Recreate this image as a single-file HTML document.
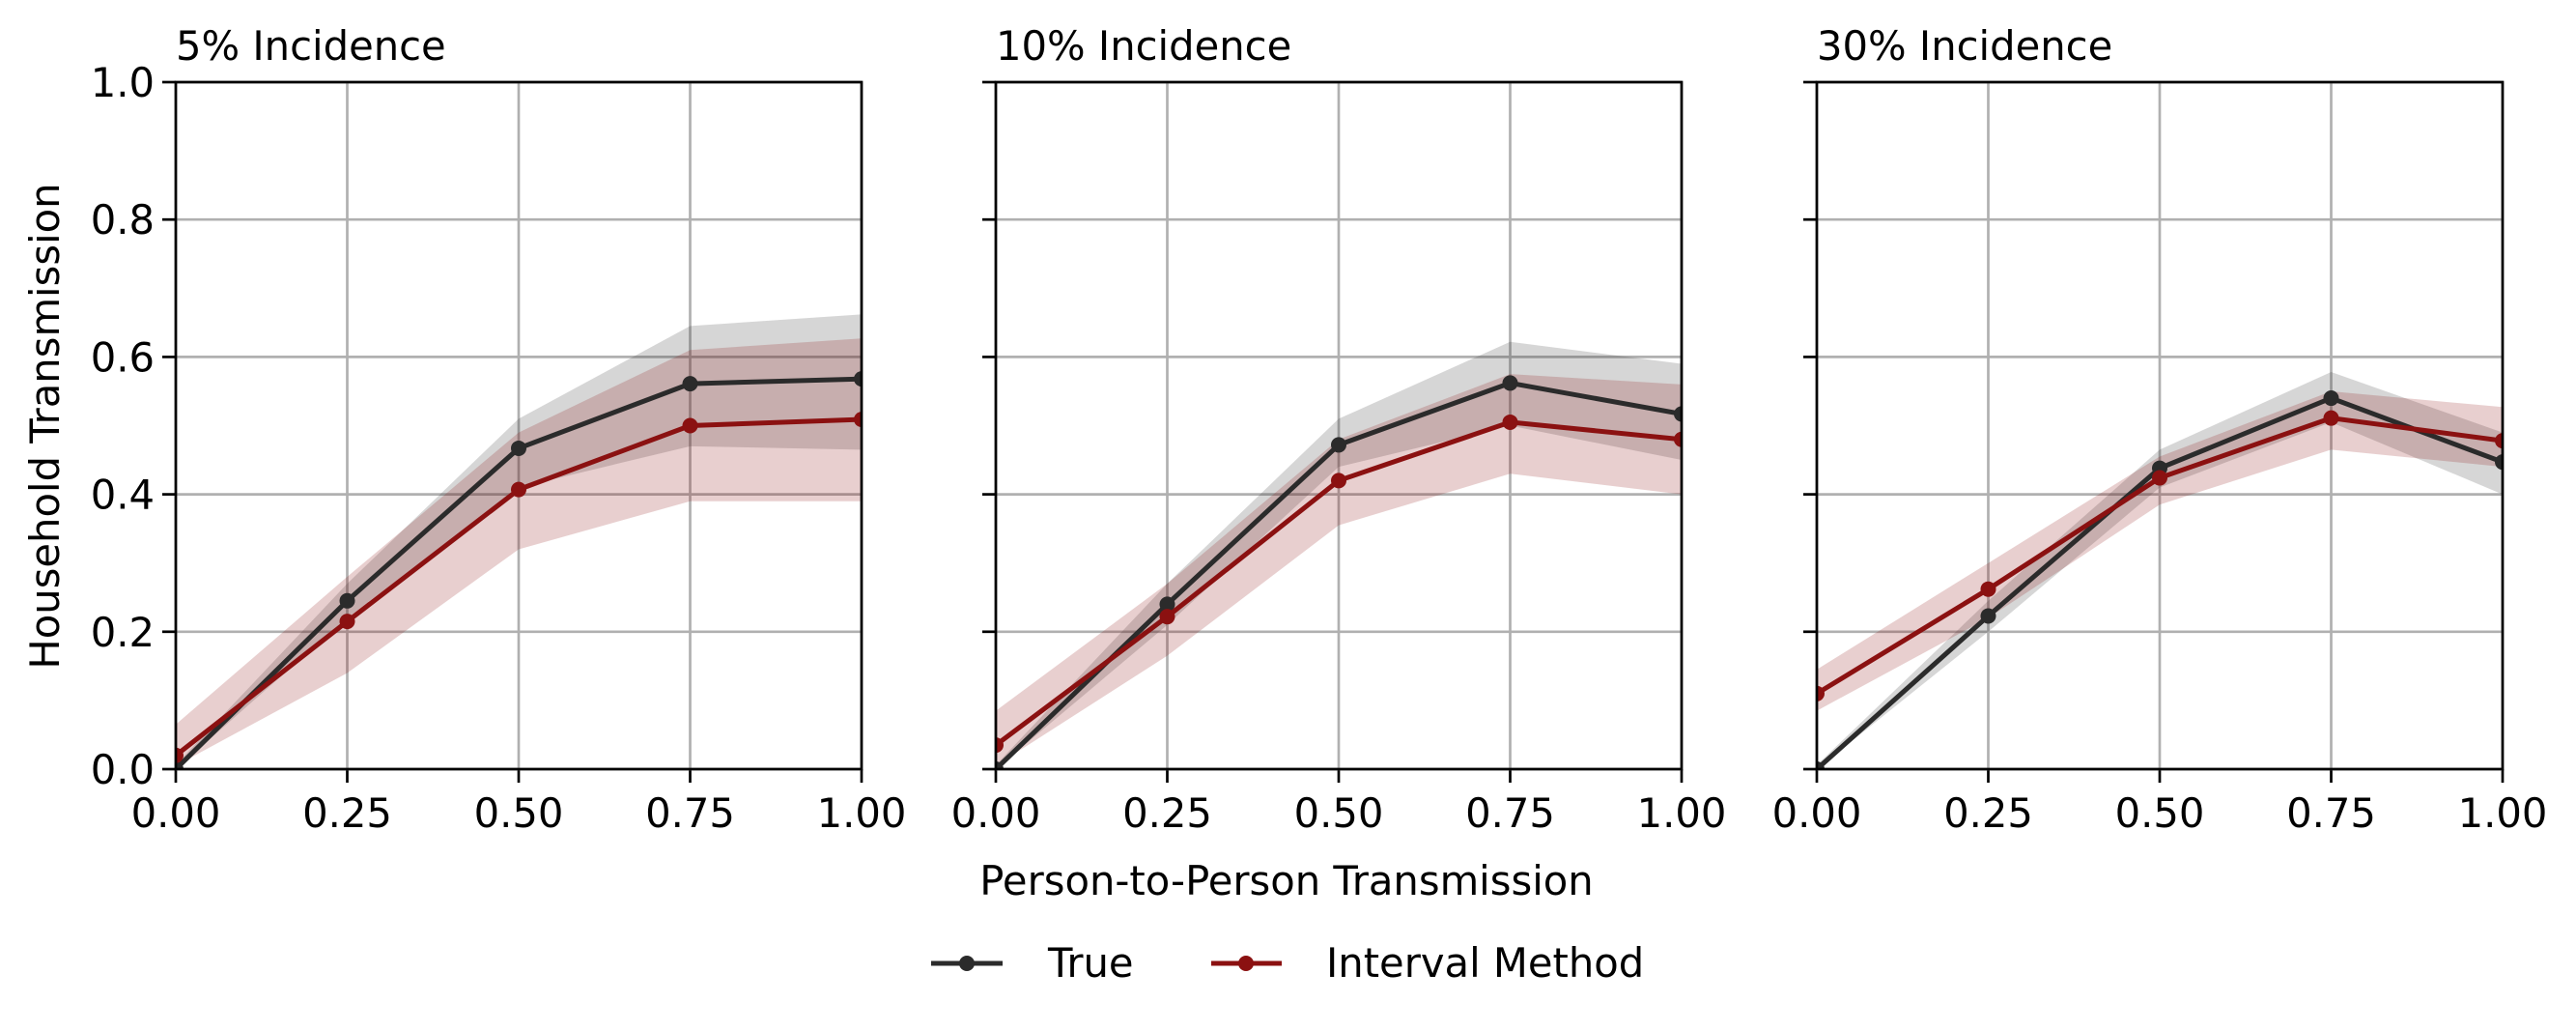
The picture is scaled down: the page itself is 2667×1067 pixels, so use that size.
<!DOCTYPE html>
<html><head><meta charset="utf-8"><style>
html,body{margin:0;padding:0;background:#fff;}
svg{display:block;font-family:"DejaVu Sans","Liberation Sans",sans-serif;}
</style></head><body>
<svg id="chart" width="2667" height="1067" viewBox="0 0 2667 1067" xmlns="http://www.w3.org/2000/svg">
<text x="0" y="0" font-size="41.7" transform="translate(61,441) rotate(-90)" text-anchor="middle">Household Transmission</text>
<text x="1332" y="926" font-size="41.7" text-anchor="middle">Person-to-Person Transmission</text>
<g>
<g>
<line x1="964" y1="997" x2="1038" y2="997" stroke="#2b2b2b" stroke-width="5"/>
<circle cx="1001" cy="997" r="8" fill="#2b2b2b"/>
<text x="1085" y="1011" font-size="41.7">True</text></g>
<g>
<line x1="1254" y1="997" x2="1327" y2="997" stroke="#8b1111" stroke-width="5"/>
<circle cx="1290" cy="997" r="8" fill="#8b1111"/>
<text x="1373" y="1011" font-size="41.7">Interval Method</text></g>
</g>
</svg>
<script>
const xCats = [0, 0.25, 0.5, 0.75, 1.0];
const xTickLabels = ["0.00","0.25","0.50","0.75","1.00"];
const yTicks = [0, 0.2, 0.4, 0.6, 0.8, 1.0];
const yTickLabels = ["0.0","0.2","0.4","0.6","0.8","1.0"];
const panelTitles = ["5% Incidence","10% Incidence","30% Incidence"];
const trueVals = [[0,0.245,0.467,0.561,0.568],[0,0.24,0.472,0.562,0.517],[0,0.223,0.438,0.54,0.447]];
const trueLo = [[0,0.22,0.41,0.47,0.465],[0,0.21,0.44,0.5,0.45],[0,0.2,0.41,0.505,0.4]];
const trueHi = [[0.006,0.27,0.51,0.645,0.662],[0.006,0.27,0.51,0.622,0.59],[0.006,0.245,0.465,0.578,0.49]];
const intVals = [[0.02,0.215,0.407,0.5,0.509],[0.035,0.222,0.42,0.505,0.48],[0.11,0.262,0.424,0.511,0.478]];
const intLo = [[0.005,0.14,0.32,0.39,0.39],[0.005,0.165,0.355,0.43,0.4],[0.085,0.22,0.385,0.465,0.44]];
const intHi = [[0.065,0.28,0.49,0.61,0.627],[0.085,0.27,0.48,0.575,0.56],[0.145,0.3,0.455,0.55,0.527]];

(function(){
const NS="http://www.w3.org/2000/svg";
const svg=document.getElementById('chart');
const panelLeft=[182,1031,1881], pw=710, yTop=85, yBot=796;
function mk(tag,attrs,parent){const e=document.createElementNS(NS,tag);for(const k in attrs)e.setAttribute(k,attrs[k]);parent.appendChild(e);return e;}
for(let p=0;p<3;p++){
  const L=panelLeft[p];
  const xs=v=>L+v*pw;
  const ys=v=>yBot-v*(yBot-yTop);
  const g=mk('g',{},svg);
  
  
  const t=mk('text',{x:L,y:62,'font-size':41.7},g);t.textContent=panelTitles[p];
  
  
  xCats.forEach((v,i)=>{
    const gl=mk('line',{x1:xs(v),x2:xs(v),y1:yTop,y2:yBot,stroke:'#b0b0b0','stroke-width':2.7},g);
    
    
    mk('line',{x1:xs(v),x2:xs(v),y1:yBot,y2:yBot+14,stroke:'#000','stroke-width':2.7},g);
    const tl=mk('text',{x:xs(v),y:yBot+60,'font-size':41.7,'text-anchor':'middle'},g);tl.textContent=xTickLabels[i];
    
    
  });
  yTicks.forEach((v,i)=>{
    const gl=mk('line',{x1:L,x2:L+pw,y1:ys(v),y2:ys(v),stroke:'#b0b0b0','stroke-width':2.7},g);
    
    
    mk('line',{x1:L-14,x2:L,y1:ys(v),y2:ys(v),stroke:'#000','stroke-width':2.7},g);
    if(p===0){const tl=mk('text',{x:L-22,y:ys(v)+15,'font-size':41.7,'text-anchor':'end'},g);tl.textContent=yTickLabels[i];
      
      }
  });
  const clip=mk('clipPath',{id:'c'+p},g);mk('rect',{x:L,y:yTop,width:pw,height:yBot-yTop},clip);
  const plot=mk('g',{'clip-path':'url(#c'+p+')'},g);
  function band(lo,hi,col,name){
    let d='M'+xCats.map((v,i)=>xs(v)+','+ys(hi[i])).join('L');
    d+='L'+xCats.slice().reverse().map((v,j)=>{const i=xCats.length-1-j;return xs(v)+','+ys(lo[i]);}).join('L')+'Z';
    const b=mk('path',{d:d,fill:col,'fill-opacity':0.2},plot);
    
    
  }
  band(trueLo[p],trueHi[p],'#333333','true-band');
  band(intLo[p],intHi[p],'#8b1111','interval-band');
  function series(vals,col,name){
    const pl=mk('polyline',{points:xCats.map((v,i)=>xs(v)+','+ys(vals[i])).join(' '),fill:'none',stroke:col,'stroke-width':5},plot);
    
    
    xCats.forEach((v,i)=>{const c=mk('circle',{cx:xs(v),cy:ys(vals[i]),r:8,fill:col},plot);
      
      });
  }
  series(trueVals[p],'#2b2b2b','true');
  series(intVals[p],'#8b1111','interval');
  const fr=mk('rect',{x:L,y:yTop,width:pw,height:yBot-yTop,fill:'none',stroke:'#000','stroke-width':2.7},g);
  
  
}
})();
</script>
</body></html>
